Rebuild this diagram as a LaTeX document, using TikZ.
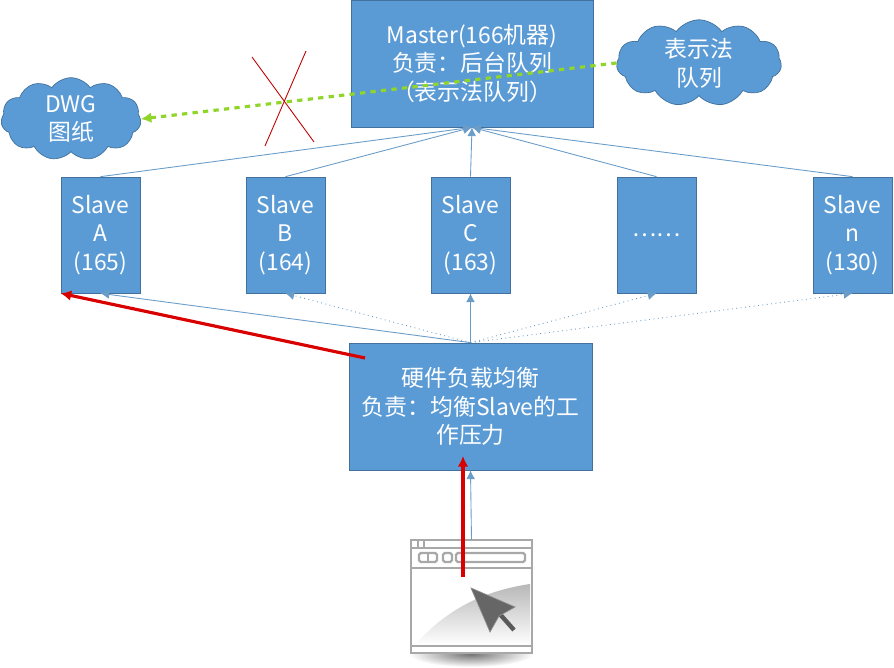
\documentclass[tikz,border=0pt]{standalone}
\usepackage{fontspec}
\setmainfont{Noto Sans CJK SC}
\usetikzlibrary{arrows.meta, shapes.symbols}
\definecolor{boxblue}{HTML}{5B9BD5}
\definecolor{boxedge}{HTML}{41719C}
\definecolor{linkblue}{HTML}{6A9CC8}
\definecolor{webgray}{HTML}{A8A8A8}
\tikzset{
  textbox/.style={draw=boxedge, fill=boxblue, text=white, align=center, inner sep=0pt,
    font=\fontsize{13}{16.4}\selectfont},
  puff/.style={textbox, cloud, cloud puffs=11, cloud puff arc=110, aspect=1.8},
  link/.style={draw=linkblue, line width=0.5pt, -{Latex[length=5pt,width=5pt]}},
  dotlink/.style={link, dotted},
  redlink/.style={draw=red!85!black, line width=1.8pt, -{Latex[length=6pt,width=6pt]}},
  cross/.style={draw=red!75!black, line width=0.5pt},
  webline/.style={draw=webgray, line width=1.3pt},
}
\begin{document}
\begin{tikzpicture}[
    x = 0.02cm,
    y = -0.02cm,
    ]
    \useasboundingbox (0,0) rectangle (894,668);
    % upper boxes
    \node[textbox, minimum width=4.84cm, minimum height=2.54cm] (master) at (472,63.5)
    {Master(166机器)\\负责：后台队列\\（表示法队列）};
    \foreach \name/\x/\txt in {slavea/100.5/{Slave\\A\\(165)}, slaveb/285.5/{Slave\\B\\(164)},
      slavec/470.5/{Slave\\C\\(163)}, slaved/656.5/{……}, slaven/852.5/{Slave\\n\\(130)}}
    \node[textbox, minimum width=1.58cm, minimum height=2.32cm] (\name) at (\x,235) {\txt};
    % balancer
    \node[textbox, minimum width=4.86cm, minimum height=2.54cm] (balancer) at (470.5,406.5)
    {硬件负载均衡\\负责：均衡Slave的工\\作压力};
    % clouds
    \node[puff, minimum width=2.8cm, minimum height=1.5cm] (dwg) at (71,119) {DWG\\图纸};
    \node[puff, minimum width=3.3cm, minimum height=1.46cm] (queue) at (699,63) {表示法\\队列};
    % browser
    \node[minimum width=2.42cm, minimum height=2.26cm, inner sep=0pt] (browser) at (471.5,596.5) {};
    \begin{scope}
      \shade[inner color=black!55, outer color=white] (471,654) ellipse (62 and 13);
      \fill[white] (411,540) rectangle (532,653);
      \shade[top color=black!28, bottom color=white]
      (415,645) .. controls (450,605) and (490,590) .. (530,584) -- (530,645) -- cycle;
      \draw[webline] (411,540) rectangle (532,653);
      \draw[webline] (411,548) -- (532,548);
      \draw[webline] (411,568) -- (532,568);
      \draw[webline] (411,646) -- (532,646);
      \draw[webline, fill=white, rounded corners=1pt] (456,553) rectangle (525,562);
      \draw[webline, fill=white, rounded corners=1pt] (419,553) rectangle (437,562);
      \draw[webline] (428,553) -- (428,562);
      \draw[webline, fill=white, rounded corners=1pt] (443,553) rectangle (452,562);
      \foreach \x in {418, 424} \draw[webline, line width=0.8pt] (\x,540) -- (\x,548);
      % cursor
      \draw[black!65, line width=2.5pt] (498,612) -- (514,630);
      \fill[black!60, draw=black!45] (471,588) -- (515,607) -- (499,616) -- (490,632) -- cycle;
    \end{scope}
    % master links
    \foreach \name in {slavea, slaveb, slavec, slaved, slaven}
    \draw[link] (\name.north) -- (master.south);
    % balancer links
    \draw[link] (balancer.north) -- (slavea.south);
    \draw[dotlink] (balancer.north) -- (slaveb.south);
    \draw[link] (balancer.north) -- (slavec.south);
    \draw[dotlink] (balancer.north) -- (slaved.south);
    \draw[dotlink] (balancer.north) -- (slaven.south);
    \draw[link] (browser.north) -- (balancer.south);
    % red arrows
    \coordinate (redstart) at (365,358);
    \coordinate (redweb) at (463,577);
    \coordinate (redtop) at (463,456);
    \draw[redlink] (redstart) -- (slavea.south west);
    \draw[redlink] (redweb) -- (redtop);
    % green arrow
    \draw[draw=green!45!gray!60!yellow, line width=1.8pt, dashed, -{Latex[length=6pt,width=6pt]}]
    (queue.west) -- (dwg.east);
    % cross
    \coordinate (crossa) at (252,57);
    \coordinate (crossb) at (314,142);
    \coordinate (crossc) at (306,51);
    \coordinate (crossd) at (265,146);
    \draw[cross] (crossa) -- (crossb);
    \draw[cross] (crossc) -- (crossd);
  \end{tikzpicture}
\end{document}
